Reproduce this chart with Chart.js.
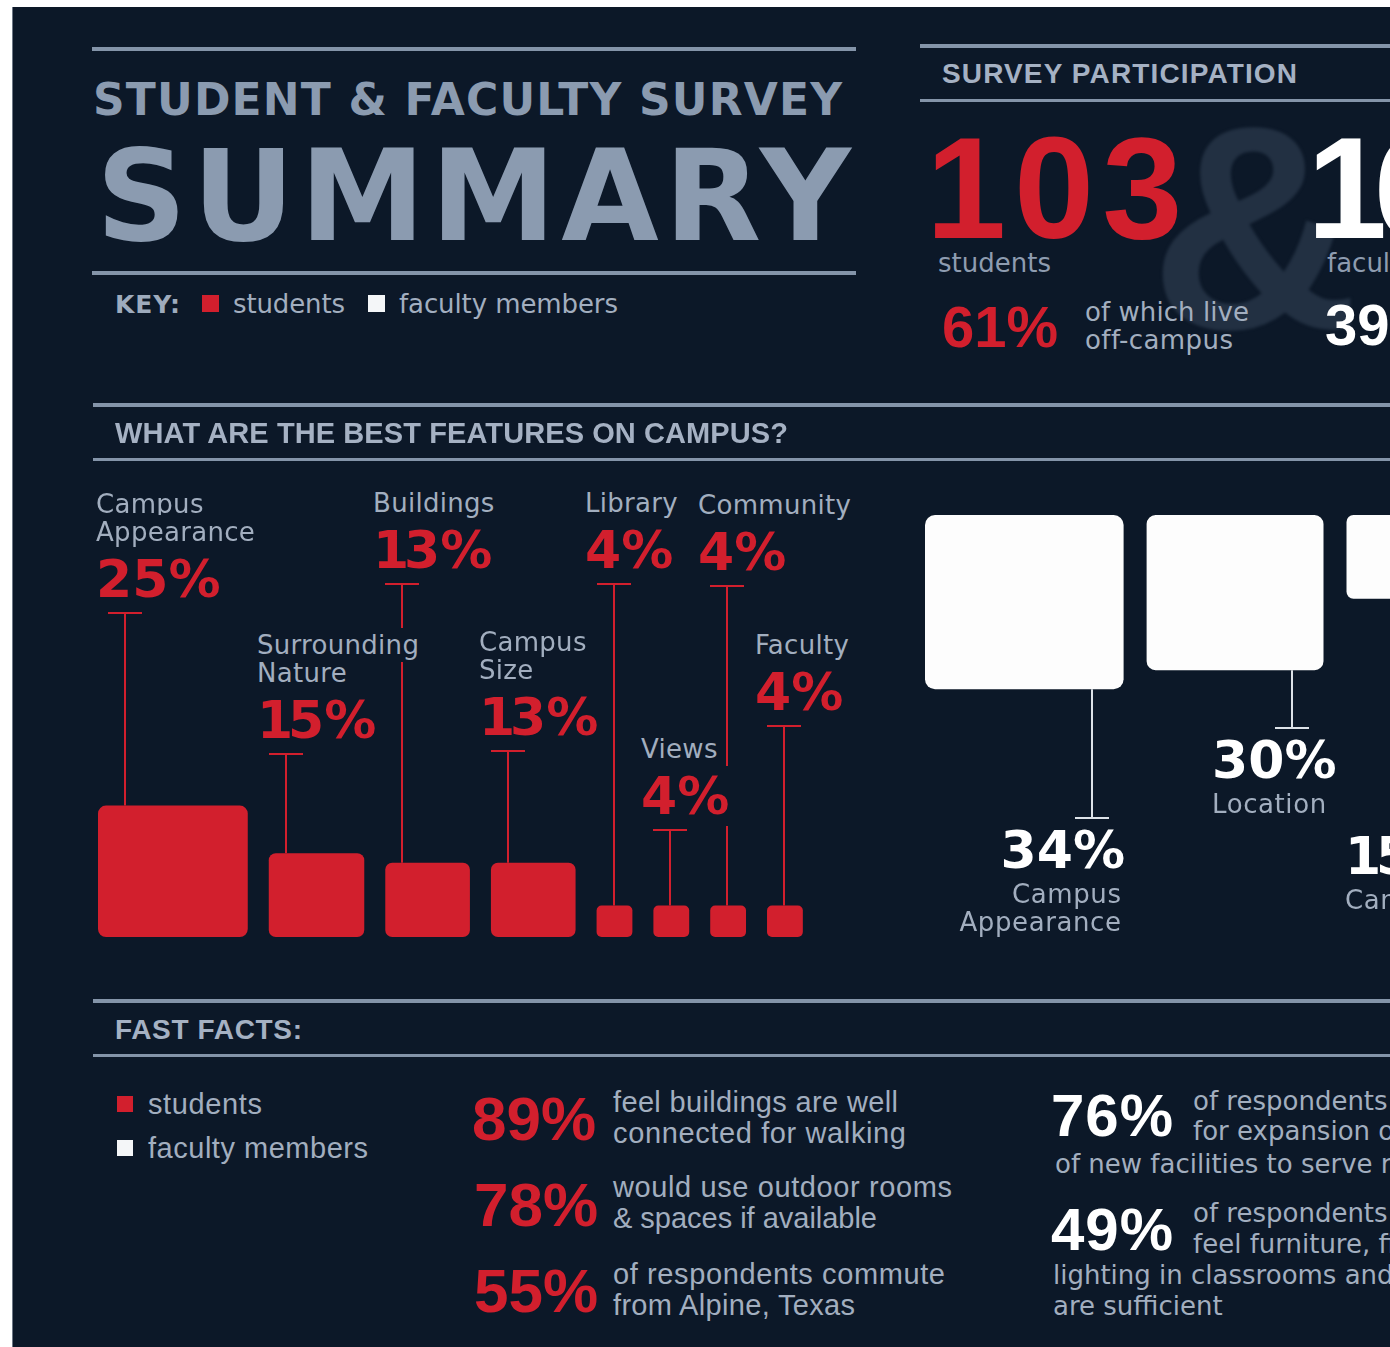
<!DOCTYPE html>
<html><head><meta charset="utf-8">
<script src="https://cdn.jsdelivr.net/npm/chart.js@4.4.1/dist/chart.umd.min.js"></script>
<style>
html,body{margin:0;padding:0;background:#fff;}
#page{position:relative;width:1390px;height:1347px;overflow:hidden;background:#fff;}
#board{position:absolute;left:12px;top:7px;width:1378px;height:1340px;background:#0c1828;border-left:1px solid #6d7785;}
.t{position:absolute;white-space:nowrap;line-height:1;}
.rule{position:absolute;background:#8494a9;}
.sq{position:absolute;}
canvas{position:absolute;}
</style></head>
<body><div id="page"><div id="board"></div>
<canvas id="cA" width="900" height="520" style="left:0px;top:440px"></canvas>
<canvas id="cB" width="490" height="480" style="left:900px;top:480px"></canvas>
</div>
<script>
// ================= DATA =================
const features = ['Campus Appearance', 'Surrounding Nature', 'Buildings', 'Campus Size', 'Library', 'Views', 'Community', 'Faculty'];
const studentPct = [25, 15, 13, 13, 4, 4, 4, 4];
const facultyFeatures = ['Campus Appearance', 'Location', 'Campus Size'];
const facultyPct = [34, 30, 15];
const studentCount = 103;
const facultyCount = 16;
const studentOffCampusPct = 61;
const facultyOffCampusPct = 39;
const studentFactPct = [89, 78, 55];
const studentFactText = [['feel buildings are well', 'connected for walking'], ['would use outdoor rooms', '& spaces if available'], ['of respondents commute', 'from Alpine, Texas']];
const facultyFactPct = [76, 49];
const facultyFactText = [['of respondents see a need', 'for expansion or addition', 'of new facilities to serve residents'], ['of respondents', 'feel furniture, fixtures, and', 'lighting in classrooms and offices', 'are sufficient']];

// ================= STYLE / LAYOUT =================
const BG = '#0c1828', RED = '#d21f2d', WHITE = '#ffffff', GRAY = '#a2aebf', TITLE = '#8b9bb0', HEAD = '#a5b1c3', DIM = '#8e9cb0';
const DV = '"DejaVu Sans", sans-serif', LS = '"Liberation Sans", Arial, sans-serif';
const PX_PER_PCT = 4.76, BASE_OFFSET = 2.6, ASPECT = 1.14;
const A = {left: 0, top: 440, w: 900, h: 520, baseline: 937, start: 98, gap: 21};
const B = {left: 900, top: 480, w: 490, h: 480, topLine: 515, start: 925, gap: 23};
const capTopA = [613, 754, 584, 751, 584, 830, 586, 726];
const capTopB = [818, 728, 824];
const facLabelAnchor = [{x: 1121, align: 'right', wrap: true}, {x: 1212, align: 'left', wrap: true}, {x: 1345, align: 'left', wrap: false}];

const page = document.getElementById('page');
function rule(x, y, w, h) { const d = document.createElement('div'); d.className = 'rule'; Object.assign(d.style, {left: x + 'px', top: y + 'px', width: w + 'px', height: h + 'px'}); page.appendChild(d); }
function sq(x, y, s, c) { const d = document.createElement('div'); d.className = 'sq'; Object.assign(d.style, {left: x + 'px', top: y + 'px', width: s + 'px', height: s + 'px', background: c}); page.appendChild(d); }
function addText(txt, x, baseline, o) {
  const el = document.createElement('div');
  el.className = 't';
  if (o.tight1) {
    for (const ch of txt) {
      if (ch === '1') { const s = document.createElement('span'); s.textContent = ch; s.style.letterSpacing = ((o.ls || 0) + o.tight1 * o.size) + 'px'; el.appendChild(s); }
      else el.appendChild(document.createTextNode(ch));
    }
  } else el.appendChild(document.createTextNode(txt));
  const probe = document.createElement('span');
  probe.style.cssText = 'display:inline-block;width:0;height:0;vertical-align:baseline;letter-spacing:0;';
  el.appendChild(probe);
  el.style.fontFamily = o.font || DV;
  el.style.fontWeight = o.bold ? '700' : '400';
  el.style.fontSize = o.size + 'px';
  el.style.color = o.color || GRAY;
  const pad = o.pad || 0;
  if (pad) { el.style.padding = pad + 'px'; el.style.background = BG; }
  if (o.filter) el.style.filter = o.filter;
  el.style.letterSpacing = (o.ls || 0) + 'px';
  page.appendChild(el);
  const n = [...txt].length;
  let w0 = el.getBoundingClientRect().width - 2 * pad;
  let vis = w0 - (o.ls || 0);
  if (o.fit) {
    el.style.letterSpacing = '0px';
    w0 = el.getBoundingClientRect().width - 2 * pad;
    const ls = (o.fit - w0) / Math.max(1, n - 1);
    el.style.letterSpacing = ls + 'px';
    vis = o.fit;
  }
  const left = o.align === 'right' ? x - vis - pad : x - pad;
  el.style.left = left + 'px';
  el.style.top = (baseline - probe.offsetTop) + 'px';
  return el;
}

// ================= HEADER =================
rule(92, 47, 764, 4); rule(92, 271, 764, 4);
addText('STUDENT & FACULTY SURVEY', 93, 115, {size: 44, bold: true, color: TITLE, fit: 749});
addText('SUMMARY', 96, 240, {size: 126, bold: true, color: TITLE, fit: 755});
addText('KEY:', 115, 313, {size: 25, bold: true, color: '#9eabbd', fit: 65});
sq(202, 295, 17, RED);
addText('students', 233, 313, {size: 26, color: GRAY, fit: 112});
sq(368, 295, 17, '#f4f6f8');
addText('faculty members', 399, 313, {size: 26, color: GRAY, fit: 219});

rule(920, 44, 470, 4); rule(920, 99, 470, 3);
addText('SURVEY PARTICIPATION', 942, 83, {size: 28, bold: true, font: LS, color: HEAD, fit: 355});
addText('&', 1150, 328, {size: 290, bold: true, font: LS, color: '#223042', filter: 'blur(1.5px)'});
addText(String(studentCount), 926, 238, {size: 144, bold: true, font: LS, color: RED, ls: 8});
addText(String(facultyCount), 1307, 238, {size: 144, bold: true, font: LS, color: WHITE, ls: -13});
addText('students', 938, 272, {size: 26, color: DIM, fit: 113});
addText('faculty', 1327, 272, {size: 26, color: DIM});
addText(studentOffCampusPct + '%', 942, 347, {size: 58, bold: true, font: LS, color: RED});
addText('of which live', 1085, 321, {size: 26, color: GRAY, fit: 164});
addText('off-campus', 1085, 349, {size: 26, color: GRAY, fit: 149});
addText(facultyOffCampusPct + '%', 1325, 345, {size: 58, bold: true, font: LS, color: WHITE});

// ================= FEATURES SECTION =================
rule(93, 403, 1297, 4); rule(93, 458, 1297, 3);
addText('WHAT ARE THE BEST FEATURES ON CAMPUS?', 115, 443, {size: 29, bold: true, font: LS, color: HEAD, fit: 673});

const barW = v => ASPECT * PX_PER_PCT * (v + BASE_OFFSET);
function packLefts(vals, start, gap) { const out = []; let x = start; vals.forEach(v => { out.push(x); x += barW(v) + gap; }); return out; }
const leftsA = packLefts(studentPct, A.start, A.gap);
const leftsB = packLefts(facultyPct, B.start, B.gap);

function makeDatasets(vals, names, lefts, canvasLeft, color) {
  return vals.map((v, i) => ({
    label: names[i],
    data: [{x: lefts[i] - canvasLeft + barW(v) / 2, y: [-BASE_OFFSET, v]}],
    barThickness: barW(v),
    backgroundColor: color,
    borderWidth: 0,
    borderRadius: Math.round(4 + barW(v) * 0.03),
    borderSkipped: false,
    grouped: false,
    inflateAmount: 0
  }));
}

function leaderPlugin(id, capTops, canvasTop, color, dir) {
  return {
    id,
    afterDatasetsDraw(chart) {
      const ctx = chart.ctx;
      ctx.save();
      ctx.strokeStyle = color; ctx.lineWidth = 2;
      chart.data.datasets.forEach((ds, i) => {
        const el = chart.getDatasetMeta(i).data[0];
        const p = el.getProps(['x', 'y', 'base', 'width'], true);
        const left = p.x - p.width / 2, right = p.x + p.width / 2;
        const lx = dir === 'up' ? Math.round(left + Math.max(17, p.width * 0.18)) : Math.round(right - 32);
        const cy = capTops[i] - canvasTop;
        const end = dir === 'up' ? Math.min(p.y, p.base) : Math.max(p.y, p.base);
        ctx.beginPath();
        ctx.moveTo(lx, cy); ctx.lineTo(lx, end);
        ctx.moveTo(lx - 17, cy); ctx.lineTo(lx + 17, cy);
        ctx.stroke();
      });
      ctx.restore();
    }
  };
}

const padBottomA = A.top + A.h - A.baseline;
const chartA = new Chart(document.getElementById('cA'), {
  type: 'bar',
  data: {datasets: makeDatasets(studentPct, features, leftsA, A.left, RED)},
  options: {
    responsive: false, animation: false, devicePixelRatio: 1, events: [],
    layout: {padding: {top: 0, left: 0, right: 0, bottom: padBottomA}},
    plugins: {legend: {display: false}, tooltip: {enabled: false}},
    scales: {
      x: {type: 'linear', display: false, min: 0, max: A.w, offset: false},
      y: {type: 'linear', display: false, min: -BASE_OFFSET, max: -BASE_OFFSET + (A.h - padBottomA) / PX_PER_PCT}
    }
  },
  plugins: [leaderPlugin('leadersA', capTopA, A.top, RED, 'up')]
});

const padTopB = B.topLine - B.top;
const chartB = new Chart(document.getElementById('cB'), {
  type: 'bar',
  data: {datasets: makeDatasets(facultyPct, facultyFeatures, leftsB, B.left, '#fdfdfd')},
  options: {
    responsive: false, animation: false, devicePixelRatio: 1, events: [],
    layout: {padding: {top: padTopB, left: 0, right: 0, bottom: 0}},
    plugins: {legend: {display: false}, tooltip: {enabled: false}},
    scales: {
      x: {type: 'linear', display: false, min: 0, max: B.w, offset: false},
      y: {type: 'linear', display: false, reverse: true, min: -BASE_OFFSET, max: -BASE_OFFSET + (B.h - padTopB) / PX_PER_PCT}
    }
  },
  plugins: [leaderPlugin('leadersB', capTopB, B.top, '#dde2e8', 'down')]
});

// student labels, anchored to each bar's leader line
studentPct.forEach((v, i) => {
  const el = chartA.getDatasetMeta(i).data[0];
  const p = el.getProps(['x', 'width'], true);
  const lx = Math.round(p.x - p.width / 2 + Math.max(17, p.width * 0.18)) + A.left;
  const x = lx - 29;
  const pctBase = capTopA[i] - 16;
  addText(v + '%', x, pctBase, {size: 52, bold: true, color: RED, pad: 4, tight1: -0.1});
  const lines = features[i].split(' ');
  lines.forEach((ln, k) => {
    const bl = pctBase - 56 - (lines.length - 1 - k) * 28;
    addText(ln, x, bl, {size: 26, color: GRAY, ls: 0.3, pad: 4});
  });
});

// faculty labels
facultyPct.forEach((v, i) => {
  const a = facLabelAnchor[i];
  const pctBase = capTopB[i] + 50;
  addText(v + '%', a.x + (a.align === 'right' ? 4 : 0), pctBase, {size: 52, bold: true, color: WHITE, align: a.align, pad: 4, tight1: -0.1});
  const lines = a.wrap ? facultyFeatures[i].split(' ') : [facultyFeatures[i]];
  lines.forEach((ln, k) => {
    addText(ln, a.x, pctBase + 35 + k * 28, {size: 26, color: GRAY, ls: 0.6, align: a.align});
  });
});

// ================= FAST FACTS =================
rule(93, 999, 1297, 4); rule(93, 1054, 1297, 3);
addText('FAST FACTS:', 115, 1039, {size: 28, bold: true, font: LS, color: HEAD, fit: 187});
sq(117, 1096, 16, RED);
addText('students', 148, 1114, {size: 29, font: LS, color: GRAY, fit: 114});
sq(117, 1140, 16, '#f4f6f8');
addText('faculty members', 148, 1158, {size: 29, font: LS, color: GRAY, fit: 220});

const sfX = [472, 474, 474], sfBase = [1140, 1226, 1312], sfLine = [1112, 1197, 1284];
const sfFit = [[285, 293], [339, 264], [332, 242]];
studentFactPct.forEach((v, i) => {
  addText(v + '%', sfX[i], sfBase[i], {size: 62, bold: true, font: LS, color: RED});
  studentFactText[i].forEach((ln, k) => addText(ln, 613, sfLine[i] + k * 31, {size: 29, font: LS, color: GRAY, fit: sfFit[i][k]}));
});

const ffBase = [1136, 1250];
const ffLines = [[[1193, 1110], [1193, 1140], [1055, 1173]], [[1193, 1222], [1193, 1253], [1053, 1284], [1053, 1315]]];
facultyFactPct.forEach((v, i) => {
  addText(v + '%', 1051, ffBase[i], {size: 60, bold: true, font: LS, color: WHITE, ls: 1});
  facultyFactText[i].forEach((ln, k) => addText(ln, ffLines[i][k][0], ffLines[i][k][1], {size: 26, color: GRAY}));
});
</script>
</body></html>
